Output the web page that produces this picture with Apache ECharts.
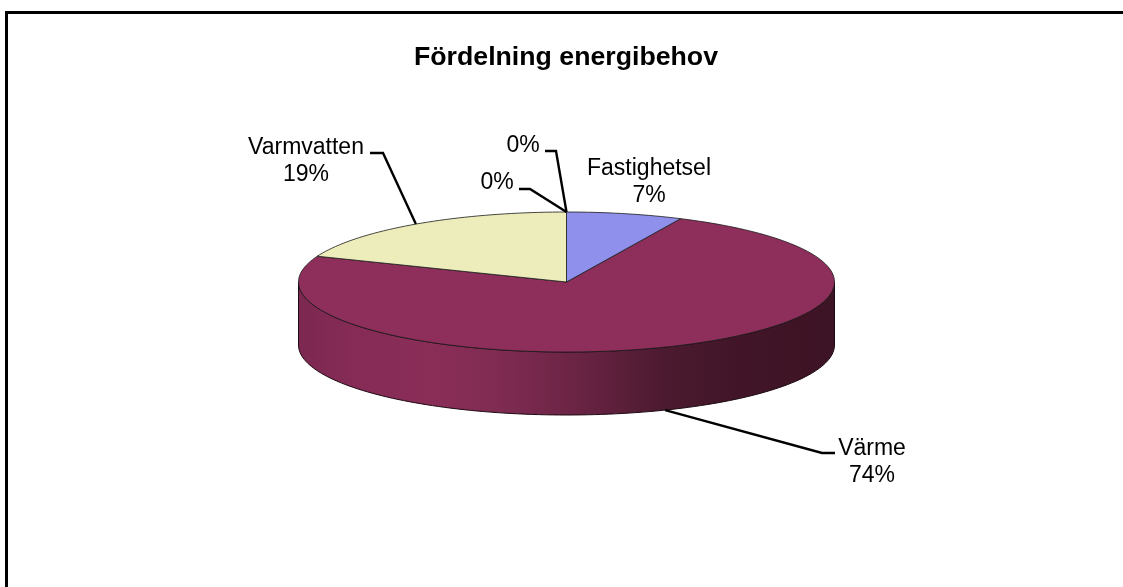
<!DOCTYPE html>
<html>
<head>
<meta charset="utf-8">
<script src="https://cdn.jsdelivr.net/npm/echarts@6/dist/echarts.min.js"></script>
<style>
html, body { margin: 0; padding: 0; background: #fff; overflow: hidden; }
#main { width: 1123px; height: 587px; }
</style>
</head>
<body>
<div id="main"></div>
<script>
// chart data, order is clockwise from the top of the pie
var categories = ['Fastighetsel', 'Värme', 'Varmvatten', '', ''];
var values = [7, 74, 19, 0, 0];
var percentLabels = ['7%', '74%', '19%', '0%', '0%'];

var colors = ['#8F8FEC', '#8E2E5B', '#EDEDBB', '#CCFFFF', '#660066'];

// pie geometry
var cx = 566.5, cy = 282, rx = 268, ry = 70, depth = 63;

// label box centre + leader elbow, same order as categories
var labelBoxes = [
    { x: 649, y: 182, elbow: null },
    { x: 872, y: 462, start: [835, 453], elbow: [822, 453] },
    { x: 306, y: 161, start: [370, 153], elbow: [383, 153] },
    { x: 523, y: 146, start: [545, 151], elbow: [556, 151] },
    { x: 497, y: 183, start: [519, 189], elbow: [530, 189] }
];

var total = values.reduce(function (a, b) { return a + b; }, 0);

function pt(deg, dy) {
    var r = deg * Math.PI / 180;
    return [cx + rx * Math.sin(r), cy - ry * Math.cos(r) + (dy || 0)];
}

function arcPoints(from, to, dy) {
    var pts = [];
    var n = Math.max(2, Math.ceil((to - from) / 1.5));
    for (var i = 0; i <= n; i++) {
        pts.push(pt(from + (to - from) * i / n, dy));
    }
    return pts;
}

function startAngle(idx) {
    var sum = 0;
    for (var i = 0; i < idx; i++) sum += values[i];
    return sum / total * 360;
}

var wallGradient = new echarts.graphic.LinearGradient(0, 0, 1, 0, [
    { offset: 0, color: '#7C2850' },
    { offset: 0.1, color: '#852B55' },
    { offset: 0.25, color: '#8A2E58' },
    { offset: 0.38, color: '#7F2B51' },
    { offset: 0.52, color: '#6A2444' },
    { offset: 0.68, color: '#4C1A30' },
    { offset: 0.82, color: '#411527' },
    { offset: 1, color: '#3D1425' }
]);

function renderSlice(params, api) {
    var idx = params.dataIndex;
    var val = api.value(0);
    var a0 = startAngle(idx);
    var a1 = a0 + val / total * 360;
    var children = [];

    if (val > 0) {
        // side wall, only the part of the rim facing the viewer
        var w0 = Math.max(a0, 90), w1 = Math.min(a1, 270);
        if (w1 > w0) {
            var top = arcPoints(w0, w1, 0);
            var bottom = arcPoints(w0, w1, depth).reverse();
            children.push({
                type: 'polygon',
                z2: 1,
                shape: { points: top.concat(bottom) },
                style: { fill: wallGradient, stroke: '#1c0a12', lineWidth: 1 }
            });
        }
        children.push({
            type: 'polygon',
            z2: 2 + (val < 50 ? 1 : 0),
            shape: { points: [[cx, cy]].concat(arcPoints(a0, a1, 0)) },
            style: { fill: colors[idx], stroke: '#1a1a1a', lineWidth: 0.8 }
        });
    }

    // leader line
    var box = labelBoxes[idx];
    if (box.elbow) {
        var mid = (a0 + a1) / 2;
        var end;
        if (val > 0) {
            end = pt(mid, mid > 90 && mid < 270 ? depth : 0);
        } else {
            end = pt(a0 >= 360 ? 0 : a0, 0);
        }
        children.push({
            type: 'polyline',
            z2: 5,
            shape: { points: [box.start, box.elbow, end] },
            style: { fill: null, stroke: '#000', lineWidth: 2.4 }
        });
    }

    // label, name over percentage
    children.push({
        type: 'text',
        z2: 6,
        x: box.x,
        y: box.y,
        style: {
            text: (categories[idx] ? categories[idx] + '\n' : '') + percentLabels[idx],
            fontFamily: '"Liberation Sans", Arial, sans-serif',
            fontSize: 23,
            lineHeight: 27,
            fill: '#000',
            align: 'center',
            verticalAlign: 'middle'
        }
    });

    return { type: 'group', children: children };
}

var myChart = echarts.init(document.getElementById('main'), null, { renderer: 'canvas' });

var option = {
    animation: false,
    backgroundColor: '#fff',
    title: {
        text: 'Fördelning energibehov',
        left: 561,
        top: 39,
        textAlign: 'center',
        textStyle: {
            fontFamily: '"Liberation Sans", Arial, sans-serif',
            fontWeight: 'bold',
            fontSize: 26.7,
            color: '#000'
        }
    },
    graphic: [{
        // frame runs past the right and bottom edge of the picture
        type: 'rect',
        silent: true,
        shape: { x: 6.5, y: 12.5, width: 1200, height: 700 },
        style: { fill: null, stroke: '#000', lineWidth: 3 }
    }],
    series: [{
        type: 'custom',
        coordinateSystem: 'none',
        renderItem: renderSlice,
        data: values.map(function (v, i) {
            return { name: categories[i], value: [v, i] };
        }),
        silent: true
    }]
};

myChart.setOption(option);
</script>
</body>
</html>
